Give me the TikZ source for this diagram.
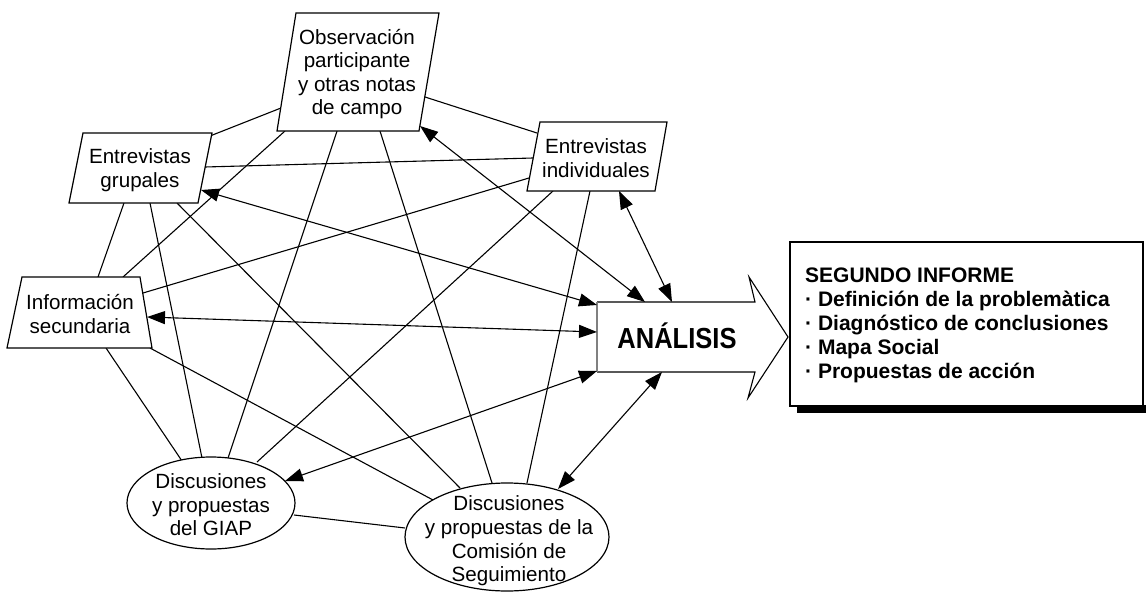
\documentclass[tikz,border=0pt]{standalone}
\usepackage{fontspec}
\usepackage{graphicx}
\setmainfont{Liberation Sans}
\usetikzlibrary{arrows.meta}
\begin{document}
\begin{tikzpicture}[x=1pt,y=-1pt,
  shapebox/.style={draw=black, line width=1.2pt, fill=white, line join=miter},
  lbl/.style={align=center, font=\fontsize{20.6}{23.6}\selectfont, inner sep=0pt},
  link/.style={line width=1.1pt},
  dbl/.style={line width=1.1pt, {Triangle[length=18pt,width=13pt]}-{Triangle[length=18pt,width=13pt]}}]
\useasboundingbox (0,0) rectangle (1146,594);
% ---- connector end points
\coordinate (oEG) at (281,108); \coordinate (egO) at (210,136);
\coordinate (oEI) at (425,97);  \coordinate (eiO) at (537,133);
\coordinate (egEI) at (205,167); \coordinate (eiEG) at (533,158);
\coordinate (eiIS) at (529,178); \coordinate (isEI) at (143,293);
\coordinate (oIS) at (285,131); \coordinate (isO) at (123,277);
\coordinate (oDG) at (337,131); \coordinate (dgO) at (228,458);
\coordinate (oDC) at (380,131); \coordinate (dcO) at (492,483);
\coordinate (egIS) at (124,203); \coordinate (isEG) at (98,277);
\coordinate (egDG) at (150,203); \coordinate (dgEG) at (202,458);
\coordinate (egDC) at (177,203); \coordinate (dcEG) at (460,488);
\coordinate (eiDG) at (553,191); \coordinate (dgEI) at (257,462);
\coordinate (eiDC) at (590,191); \coordinate (dcEI) at (527,483);
\coordinate (isDG) at (106,348); \coordinate (dgIS) at (182,461);
\coordinate (isDC) at (150,348); \coordinate (dcIS) at (433,500);
\coordinate (dgDC) at (294,515); \coordinate (dcDG) at (405,528);
% arrows to analysis
\coordinate (egA) at (201,190); \coordinate (aEG) at (597,305);
\coordinate (oA) at (420,126);  \coordinate (aO) at (645,302);
\coordinate (eiA) at (619,191); \coordinate (aEI) at (672,302);
\coordinate (isA) at (147,317); \coordinate (aIS) at (597,332);
\coordinate (dgA) at (285,481); \coordinate (aDG) at (597,371);
\coordinate (dcA) at (558,489); \coordinate (aDC) at (662,372);
% ---- plain links
\draw[link] (oEG) -- (egO);
\draw[link] (oEI) -- (eiO);
\draw[link] (egEI) -- (eiEG);
\draw[link] (eiIS) -- (isEI);
\draw[link] (oIS) -- (isO);
\draw[link] (oDG) -- (dgO);
\draw[link] (oDC) -- (dcO);
\draw[link] (egIS) -- (isEG);
\draw[link] (egDG) -- (dgEG);
\draw[link] (egDC) -- (dcEG);
\draw[link] (eiDG) -- (dgEI);
\draw[link] (eiDC) -- (dcEI);
\draw[link] (isDG) -- (dgIS);
\draw[link] (isDC) -- (dcIS);
\draw[link] (dgDC) -- (dcDG);
% ---- shapes
\draw[shapebox] (296,13) -- (439,13) -- (419,131) -- (277,131) -- cycle;
\node[lbl] (O) at (357,74) {Observación\\participante\\y otras notas\\de campo};
\draw[shapebox] (83,133) -- (212,133) -- (198,203) -- (69,203) -- cycle;
\node[lbl] (EG) at (140,170) {Entrevistas\\grupales};
\draw[shapebox] (540,122) -- (667,122) -- (655,191) -- (527,191) -- cycle;
\node[lbl] (EI) at (596,158) {Entrevistas\\individuales};
\draw[shapebox] (22,277) -- (140,277) -- (152,348) -- (7,348) -- cycle;
\node[lbl] (IS) at (80,314) {Información\\secundaria};
\draw[shapebox] (211,503) ellipse [x radius=84, y radius=46];
\node[lbl] (DG) at (211,505) {Discusiones\\y propuestas\\del GIAP};
\draw[shapebox] (507,537) ellipse [x radius=102, y radius=54];
\node[lbl] (DC) at (509,541) {Discusiones\\y propuestas de la\\Comisión de\\Seguimiento};
% analysis arrow
\fill[white] (597,302) -- (755,302) -- (749,277) -- (788,337) -- (748,398) -- (755,372) -- (597,372) -- cycle;
\draw[line width=1.1pt, line join=miter] (597,302) -- (755,302) -- (749,277) -- (788,337) -- (748,398) -- (755,372) -- (597,372);
\draw[line width=1.3pt, gray] (597,302) -- (597,372);
\node[font=\bfseries\fontsize{29}{30}\selectfont, inner sep=0pt] (A) at (677,336) {\scalebox{0.88}[1]{ANÁLISIS}};
% report box
\fill[black] (797,405) rectangle (1146,413);
\draw[line width=1.2pt, fill=white] (790,242) rectangle (1143,406);
\node[anchor=north west, align=left, inner sep=0pt, font=\bfseries\fontsize{21}{24}\selectfont] (R) at (805,268)
  {SEGUNDO INFORME\\· Definición de la problemàtica\\· Diagnóstico de conclusiones\\· Mapa Social\\· Propuestas de acción};
% ---- double arrows
\draw[dbl] (egA) -- (aEG);
\draw[dbl] (oA) -- (aO);
\draw[dbl] (eiA) -- (aEI);
\draw[dbl] (isA) -- (aIS);
\draw[dbl] (dgA) -- (aDG);
\draw[dbl] (dcA) -- (aDC);
\end{tikzpicture}
\end{document}
